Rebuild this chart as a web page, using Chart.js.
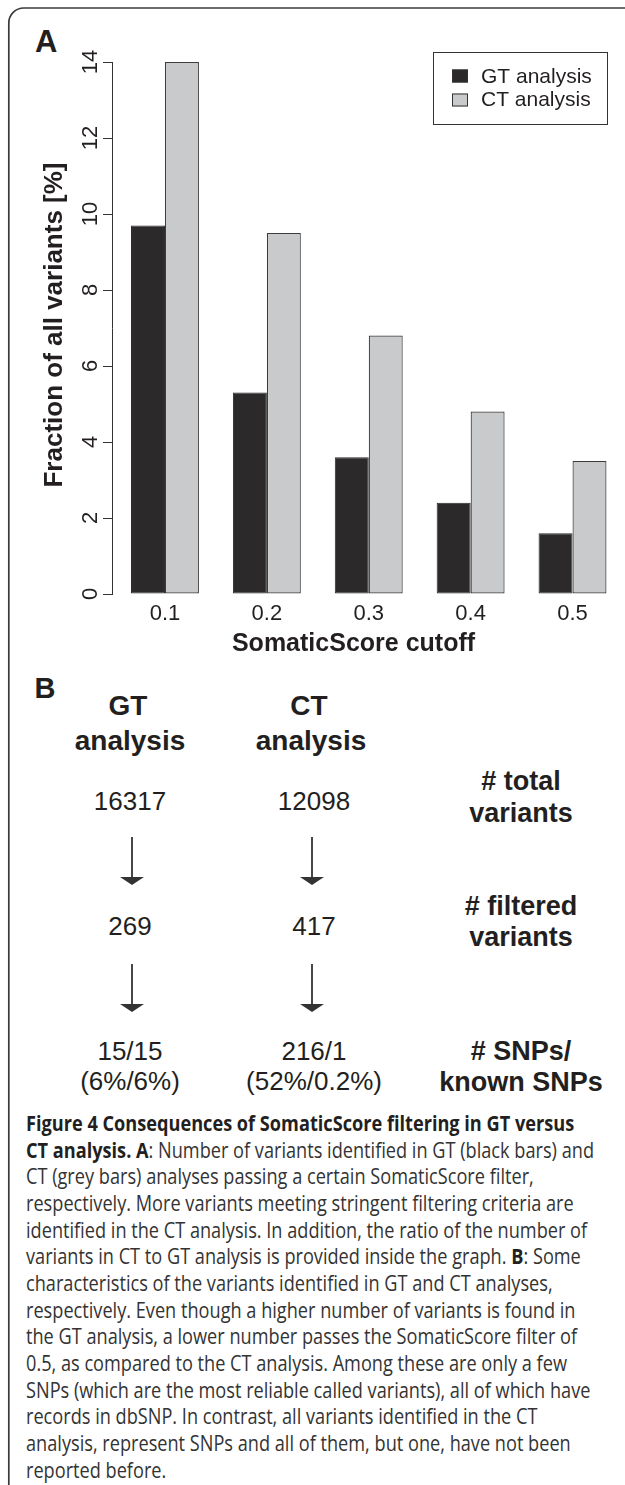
<!DOCTYPE html>
<html><head><meta charset="utf-8">
<script src="https://cdn.jsdelivr.net/npm/chart.js@4.4.0/dist/chart.umd.min.js"></script>
<style>
html,body{margin:0;padding:0;background:#fff;overflow:hidden;width:625px;height:1485px;}
#wrap{position:relative;width:625px;height:1485px;overflow:hidden;background:#fff;}
#c{position:absolute;left:0;top:0;z-index:2;}
#ov{position:absolute;left:0;top:0;z-index:1;}
</style></head>
<body><div id="wrap"><svg id="ov" width="625" height="1485" xmlns="http://www.w3.org/2000/svg"></svg><canvas id="c" width="625" height="660"></canvas></div>
<script>
// ---- Panel A data ----
const cutoffs = [0.1, 0.2, 0.3, 0.4, 0.5];
const cutoffLabels = ['0.1', '0.2', '0.3', '0.4', '0.5'];
const gtValues = [9.7, 5.3, 3.6, 2.4, 1.6];
const ctValues = [14.0, 9.5, 6.8, 4.8, 3.5];
const yTicks = [0, 2, 4, 6, 8, 10, 12, 14];
const seriesNames = ['GT analysis', 'CT analysis'];
const xTitle = 'SomaticScore cutoff';
const yTitle = 'Fraction of all variants [%]';

// ---- Panel B data ----
const columnHeads = [['GT', 'analysis'], ['CT', 'analysis']];
const gtColumn = ['16317', '269', '15/15', '(6%/6%)'];
const ctColumn = ['12098', '417', '216/1', '(52%/0.2%)'];
const rowLabels = [['# total', 'variants'], ['# filtered', 'variants'], ['# SNPs/', 'known SNPs']];

// ---- Caption ----
const captionLines = [
  [['Figure 4 Consequences of SomaticScore filtering in GT versus', true]],
  [['CT analysis. A', true], [': Number of variants identified in GT (black bars) and', false]],
  [['CT (grey bars) analyses passing a certain SomaticScore filter,', false]],
  [['respectively. More variants meeting stringent filtering criteria are', false]],
  [['identified in the CT analysis. In addition, the ratio of the number of', false]],
  [['variants in CT to GT analysis is provided inside the graph. ', false], ['B', true], [': Some', false]],
  [['characteristics of the variants identified in GT and CT analyses,', false]],
  [['respectively. Even though a higher number of variants is found in', false]],
  [['the GT analysis, a lower number passes the SomaticScore filter of', false]],
  [['0.5, as compared to the CT analysis. Among these are only a few', false]],
  [['SNPs (which are the most reliable called variants), all of which have', false]],
  [['records in dbSNP. In contrast, all variants identified in the CT', false]],
  [['analysis, represent SNPs and all of them, but one, have not been', false]],
  [['reported before.', false]]
];

const FONT = "'Liberation Sans', Arial, Helvetica, sans-serif";
const INK = '#231f20';

const decorPlugin = {
  id: 'rdecor',
  afterDraw(chart) {
    const ctx = chart.ctx, x = chart.scales.x, y = chart.scales.y;
    ctx.save();
    ctx.fillStyle = INK;
    ctx.textAlign = 'center';
    ctx.textBaseline = 'alphabetic';
    ctx.font = '22px ' + FONT;
    y.ticks.forEach(t => {
      const py = y.getPixelForValue(t.value);
      ctx.save(); ctx.translate(97, py); ctx.rotate(-Math.PI / 2);
      ctx.fillText(String(t.value), 0, 0); ctx.restore();
    });
    x.ticks.forEach((t, i) => {
      ctx.fillText(cutoffLabels[i], x.getPixelForValue(t.value), 620);
    });
    ctx.font = 'bold 25px ' + FONT;
    ctx.fillText(xTitle, 353.5, 651);
    ctx.save(); ctx.translate(61.5, 325); ctx.rotate(-Math.PI / 2);
    ctx.font = 'bold 26px ' + FONT; ctx.fillText(yTitle, 0, 0); ctx.restore();
    // legend box
    ctx.strokeStyle = '#333'; ctx.lineWidth = 1;
    ctx.strokeRect(433.5, 52.5, 174, 72);
    ctx.textAlign = 'left';
    ctx.font = '21px ' + FONT;
    chart.data.datasets.forEach((ds, i) => {
      const yy = 69.5 + i * 24;
      ctx.fillStyle = ds.backgroundColor;
      ctx.fillRect(452, yy, 16, 13);
      ctx.strokeStyle = '#333';
      ctx.strokeRect(452.5, yy + 0.5, 15, 12);
      ctx.fillStyle = INK;
      ctx.fillText(ds.label, 481, 83 + i * 23);
    });
    ctx.restore();
  }
};

new Chart(document.getElementById('c'), {
  type: 'bar',
  data: {
    datasets: [
      { label: seriesNames[0], data: cutoffs.map((c, i) => ({ x: c, y: gtValues[i] })),
        backgroundColor: '#2b292a', borderColor: '#2b292a', borderWidth: 1, borderSkipped: false,
        categoryPercentage: 2 / 3, barPercentage: 1 },
      { label: seriesNames[1], data: cutoffs.map((c, i) => ({ x: c, y: ctValues[i] })),
        backgroundColor: '#c9cacc', borderColor: '#3d3d3d', borderWidth: 1.2, borderSkipped: false,
        categoryPercentage: 2 / 3, barPercentage: 1 }
    ]
  },
  options: {
    responsive: false, animation: false, devicePixelRatio: 1,
    layout: { padding: { left: 0, top: 62, right: 5, bottom: 0 } },
    plugins: { legend: { display: false }, tooltip: { enabled: false } },
    scales: {
      x: { type: 'linear', min: 0.048, max: 0.5466, offset: false,
           grid: { display: false }, border: { display: false }, ticks: { display: false },
           afterBuildTicks: s => { s.ticks = cutoffs.map(v => ({ value: v })); },
           afterFit: s => { s.height = 66; } },
      y: { type: 'linear', min: 0, max: 14,
           ticks: { display: false, stepSize: 2 },
           afterBuildTicks: s => { s.ticks = yTicks.map(v => ({ value: v })); },
           grid: { display: true, drawOnChartArea: false, drawTicks: true, tickLength: 9, color: '#333', lineWidth: 1 },
           border: { display: true, color: '#333', width: 1 },
           afterFit: s => { s.width = 112; } }
    }
  },
  plugins: [decorPlugin]
});

// ---- SVG overlay: frame, panel labels, panel B, caption ----
const NS = 'http://www.w3.org/2000/svg';
const svg = document.getElementById('ov');
function el(tag, attrs, parent) {
  const e = document.createElementNS(NS, tag);
  for (const k in attrs) e.setAttribute(k, attrs[k]);
  (parent || svg).appendChild(e);
  return e;
}
function txt(s, x, y, size, bold, anchor, parent) {
  const t = el('text', { x: x, y: y, 'font-size': size, 'font-family': FONT, 'font-weight': bold ? 'bold' : 'normal',
    'text-anchor': anchor || 'middle', fill: INK }, parent);
  t.textContent = s;
  return t;
}
el('path', { d: 'M 8.8 1490 V 23 A 15 15 0 0 1 23.8 8 H 640', fill: 'none', stroke: '#3a3a3a', 'stroke-width': 1.7 });
txt('A', 35, 51.7, 31, true, 'start');
txt('B', 34.5, 698, 29, true, 'start');

const colX = [130, 311];
const labelX = 521;
columnHeads.forEach((h, i) => { txt(h[0], colX[i] - 2, 715, 28, true); txt(h[1], colX[i], 750, 28, true); });
const valueBase = [810, 935, 1059.5, 1090];
[gtColumn, ctColumn].forEach((col, ci) => {
  col.forEach((v, r) => txt(v, colX[ci] + (ci ? 3 : 0), valueBase[r], 26, false));
});
const labelBase = [[790, 822], [915, 946], [1060, 1091]];
rowLabels.forEach((l, r) => { txt(l[0], labelX, labelBase[r][0], 27, true); txt(l[1], labelX, labelBase[r][1], 27, true); });
const arrowSpans = [[837, 885], [964, 1012]];
const arrowX = [132, 312];
arrowSpans.forEach(sp => arrowX.forEach(ax => {
  el('line', { x1: ax, y1: sp[0], x2: ax, y2: sp[1] - 6, stroke: '#333', 'stroke-width': 1.8 });
  el('polygon', { points: `${ax - 12},${sp[1] - 8} ${ax + 12},${sp[1] - 8} ${ax},${sp[1]}`, fill: '#333' });
}));

const CAPFONT = "'Open Sans', 'Noto Sans', sans-serif";
const capGroup = el('g', {});
const capTexts = captionLines.map((segs, i) => {
  const t = el('text', { x: 0, y: 1131 + i * 26.67, 'font-size': 21, 'font-family': CAPFONT, fill: '#2a2a2a',
    style: 'white-space:pre' }, capGroup);
  segs.forEach(sg => {
    const sp = el('tspan', { 'font-weight': sg[1] ? 'bold' : 'normal', fill: sg[1] ? INK : '#333' }, t);
    sp.textContent = sg[0];
  });
  return t;
});
const w3 = capTexts[2].getComputedTextLength();
const sx = 508 / w3;
capGroup.setAttribute('transform', `translate(26,0) scale(${sx},1)`);
</script>
</body></html>
